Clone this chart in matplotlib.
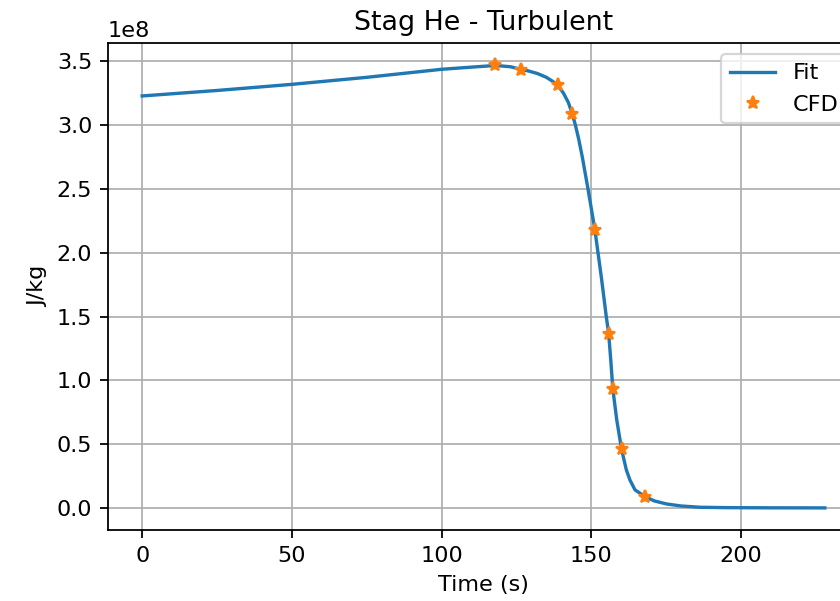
import matplotlib
matplotlib.use("Agg")
import matplotlib.pyplot as plt

# Fit curve (time in s, energy in 1e8 J/kg)
fit_time = [0, 25, 50, 75, 100, 110, 118, 123, 126.6, 129, 132, 135, 137,
            138.8, 140.6, 142.3, 143.7, 144.7, 145.8, 147.0, 148.9, 151.2,
            153.4, 155.0, 155.8, 156.5, 157.2, 158.5, 160.1, 161.7, 162.9,
            164.6, 167.9, 171, 175.1, 180, 186.3, 195, 210, 228]
fit_val = [3.229, 3.272, 3.320, 3.375, 3.438, 3.455, 3.468, 3.458, 3.437,
           3.425, 3.405, 3.375, 3.345, 3.312, 3.255, 3.18, 3.085, 3.0, 2.89,
           2.75, 2.5, 2.18, 1.8, 1.5, 1.366, 1.16, 0.93, 0.69, 0.46, 0.298,
           0.219, 0.141, 0.089, 0.055, 0.031, 0.015, 0.005, 0.002, 0.0005, 0.0]

# CFD points
cfd_time = [117.7, 126.6, 138.8, 143.7, 151.2, 155.8, 157.2, 160.1, 167.9]
cfd_val = [3.469, 3.435, 3.312, 3.085, 2.177, 1.366, 0.930, 0.460, 0.089]

DPI = 161
fig = plt.figure(figsize=(840 / DPI, 601 / DPI), dpi=DPI)
ax = fig.add_axes([0.1286, 0.1181, 0.894, 0.810])

ax.plot(fit_time, [v * 1e8 for v in fit_val], label='Fit')
ax.plot(cfd_time, [v * 1e8 for v in cfd_val], '*', label='CFD')

ax.set_title('Stag He - Turbulent')
ax.set_xlabel('Time (s)')
ax.set_ylabel('J/kg')
ax.grid(True)
ax.legend(loc='upper right')

fig.savefig('out.png', dpi=DPI)
